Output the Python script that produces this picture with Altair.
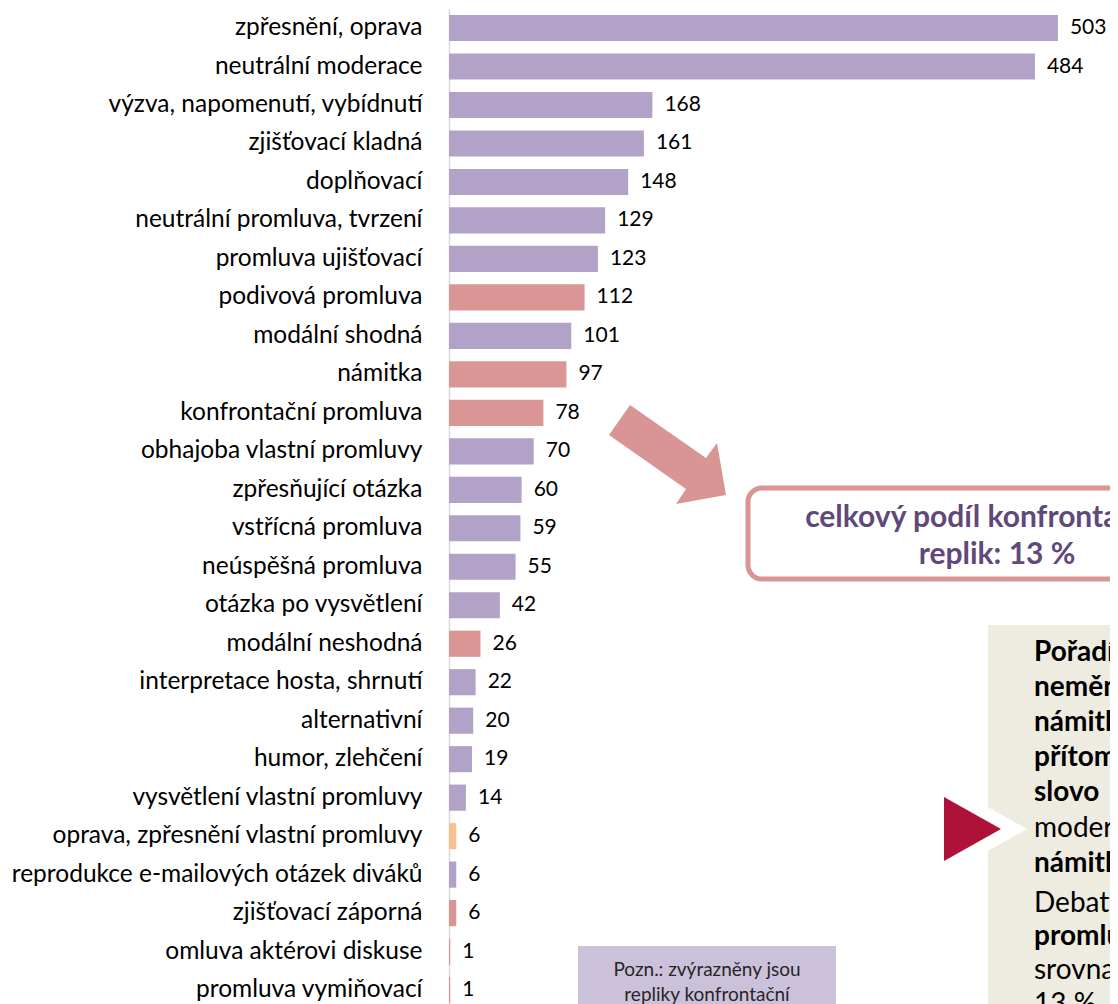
import altair as alt
import pandas as pd

categories = [
    "zpřesnění, oprava",
    "neutrální moderace",
    "výzva, napomenutí, vybídnutí",
    "zjišťovací kladná",
    "doplňovací",
    "neutrální promluva, tvrzení",
    "promluva ujišťovací",
    "podivová promluva",
    "modální shodná",
    "námitka",
    "konfrontační promluva",
    "obhajoba vlastní promluvy",
    "zpřesňující otázka",
    "vstřícná promluva",
    "neúspěšná promluva",
    "otázka po vysvětlení",
    "modální neshodná",
    "interpretace hosta, shrnutí",
    "alternativní",
    "humor, zlehčení",
    "vysvětlení vlastní promluvy",
    "oprava, zpřesnění vlastní promluvy",
    "reprodukce e-mailových otázek diváků",
    "zjišťovací záporná",
    "omluva aktérovi diskuse",
    "promluva vymiňovací",
]
values = [503, 484, 168, 161, 148, 129, 123, 112, 101, 97, 78, 70, 60, 59, 55,
          42, 26, 22, 20, 19, 14, 6, 6, 6, 1, 1]
groups = [
    "ostatní", "ostatní", "ostatní", "ostatní", "ostatní", "ostatní", "ostatní",
    "konfrontační", "ostatní", "konfrontační", "konfrontační", "ostatní",
    "ostatní", "ostatní", "ostatní", "ostatní", "konfrontační", "ostatní",
    "ostatní", "ostatní", "ostatní", "oprava", "ostatní", "konfrontační",
    "konfrontační", "konfrontační",
]
group_names = ["ostatní", "konfrontační", "oprava"]
group_colors = ["#B3A2C7", "#D99694", "#FAC090"]

box_lines = ["celkový podíl konfrontačních", "replik: 13 %"]
note_lines = ["Pozn.: zvýrazněny jsou", "repliky konfrontační"]
side_lines = [
    ("Pořadí se", True), ("nemění:", True), ("námitka", True), ("přítomna,", True),
    ("slovo", True), ("moderátora", False), ("námitka", True),
    ("Debaty", False), ("promluvy", True), ("srovnatelné", False), ("13 %", False),
]
side_y = [645, 680, 715, 750, 785, 821, 856, 896, 929, 963, 997]

FONT = "Lato"

df = pd.DataFrame({"kategorie": categories, "pocet": values, "skupina": groups})

y_enc = alt.Y(
    "kategorie:N",
    sort=categories,
    scale=alt.Scale(range=[0.8, 1001.3], paddingInner=0.32, paddingOuter=0.16),
    axis=alt.Axis(title=None, labelFontSize=24.5, labelColor="#000000", labelFont=FONT,
                  labelPadding=27, ticks=False, grid=False, domainColor="#D9D9D9",
                  domainWidth=1.5, labelLimit=600),
)
x_enc = alt.X("pocet:Q", axis=None, scale=alt.Scale(domain=[0, 546], nice=False, zero=True))

base = alt.Chart(df)
bars = base.mark_bar().encode(
    x=x_enc, y=y_enc,
    color=alt.Color("skupina:N", scale=alt.Scale(domain=group_names, range=group_colors), legend=None),
)
labels = base.mark_text(align="left", baseline="middle", dx=12, fontSize=21, font=FONT,
                        color="#000000").encode(x=x_enc, y=y_enc, text="pocet:Q")

one = alt.Data(values=[{"k": 0}])

arrow_path = "M -37 -50 L 39 3 L 50 -12 L 59 40 L 9 49 L 19 34 L -58 -20 Z"
arrow = alt.Chart(one).mark_point(shape=arrow_path, size=4, filled=True, color="#D99594",
                                  opacity=1, strokeWidth=0).encode(
    x=alt.value(218), y=alt.value(447))

box = alt.Chart(one).mark_rect(fill="#FFFFFF", stroke="#D99594", strokeWidth=5,
                               cornerRadius=14).encode(
    x=alt.value(299), x2=alt.value(801), y=alt.value(480), y2=alt.value(571))
box_texts = [
    alt.Chart(one).mark_text(align="center", baseline="middle", fontSize=30,
                             fontWeight="bold", font=FONT, color="#5F497A").encode(
        x=alt.value(548), y=alt.value(yy), text=alt.value(t))
    for t, yy in zip(box_lines, [510, 547])
]

beige = alt.Chart(one).mark_rect(fill="#EEECE1").encode(
    x=alt.value(539), x2=alt.value(800), y=alt.value(617), y2=alt.value(1100))
white_tri = alt.Chart(one).mark_point(shape="M 26 -32 L 83 0 L 26 32 Z", size=4, filled=True,
                                      color="#FFFFFF", opacity=1, strokeWidth=0).encode(
    x=alt.value(495), y=alt.value(821))
red_tri = alt.Chart(one).mark_point(shape="M 0 -32 L 57 0 L 0 32 Z", size=4, filled=True,
                                    color="#AF1238", opacity=1, strokeWidth=0).encode(
    x=alt.value(495), y=alt.value(821))

side_layers = []
for (txt, bold), yy in zip(side_lines, side_y):
    side_layers.append(
        alt.Chart(one).mark_text(align="left", baseline="middle", fontSize=28, font=FONT,
                                 fontWeight="bold" if bold else "normal",
                                 color="#000000").encode(
            x=alt.value(585), y=alt.value(yy), text=alt.value(txt)))

note = alt.Chart(one).mark_rect(fill="#CCC1DA").encode(
    x=alt.value(129), x2=alt.value(387), y=alt.value(938), y2=alt.value(1100))
note_texts = [
    alt.Chart(one).mark_text(align="center", baseline="middle", fontSize=19, font=FONT,
                             color="#262626").encode(
        x=alt.value(258), y=alt.value(yy), text=alt.value(t))
    for t, yy in zip(note_lines, [962, 987])
]

chart = alt.layer(
    bars, labels, arrow, box, *box_texts, beige, white_tri, red_tri, *side_layers,
    note, *note_texts
).properties(
    width=661, height=996,
    autosize=alt.AutoSizeParams(type="none"),
    padding={"left": 441, "top": 0, "right": 0, "bottom": 0},
).configure_view(stroke=None)

chart.save("out.html", embed_options={"renderer": "svg", "actions": False})
